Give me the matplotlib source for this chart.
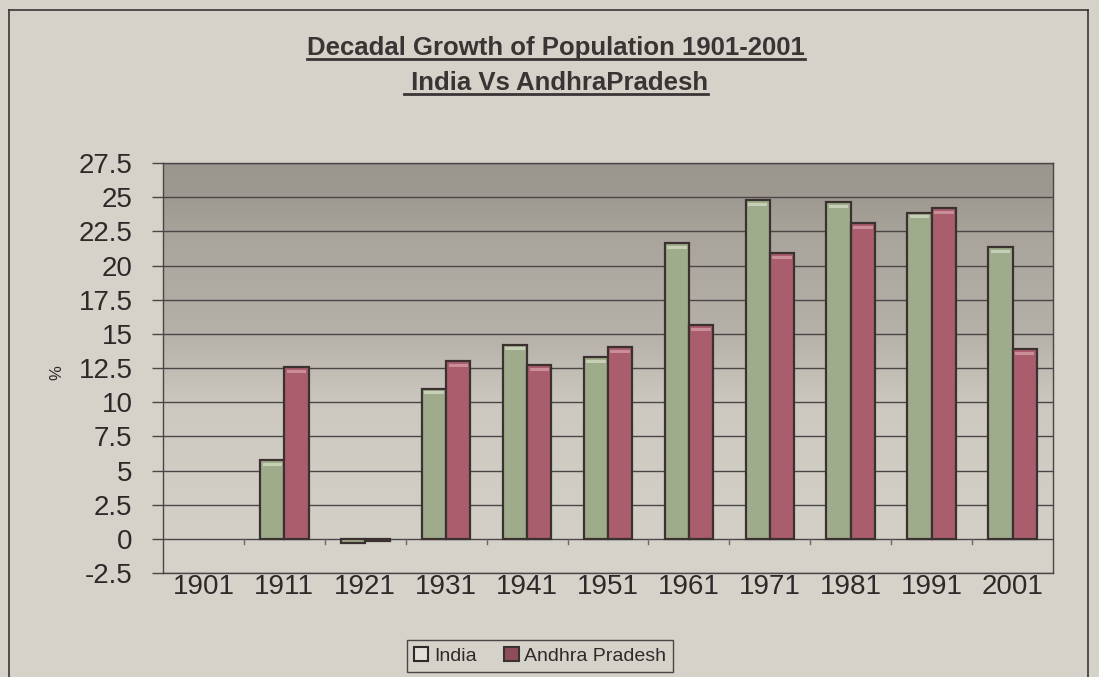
import numpy as np
import matplotlib
matplotlib.use("Agg")
import matplotlib.pyplot as plt
from matplotlib.colors import LinearSegmentedColormap
from matplotlib.patches import Patch
from matplotlib.lines import Line2D

# data (1901 has no growth figure)
years = ["1901", "1911", "1921", "1931", "1941", "1951",
         "1961", "1971", "1981", "1991", "2001"]
india = [np.nan, 5.75, -0.31, 11.0, 14.22, 13.31, 21.64, 24.8, 24.66, 23.87, 21.34]
andhra = [np.nan, 12.55, -0.13, 12.99, 12.73, 14.02, 15.65, 20.9, 23.1, 24.2, 13.86]
yticks = np.arange(-2.5, 27.6, 2.5)

title1 = "Decadal Growth of Population 1901-2001"
title2 = " India Vs AndhraPradesh"

bg = "#d5d2ca"
green = "#9fac8b"
red = "#a95d6d"
edge = "#3b3131"

plt.rcParams['font.family'] = ['Liberation Sans', 'DejaVu Sans']

fig = plt.figure(figsize=(10.99, 6.77), dpi=100, facecolor=bg)
ax = fig.add_axes([0.1483, 0.1536, 0.8099, 0.6056])
ax.set_facecolor(bg)

n = len(years)
x = np.arange(n)
w = 0.3

ax.set_xlim(-0.5, n - 0.5)
ax.set_ylim(-2.5, 27.5)

# shaded back wall (darker towards the top, as in the scan)
cmap = LinearSegmentedColormap.from_list(
    "wall", [(0.0, "#d3d0c8"), (0.35, "#cdc9c1"), (0.55, "#b5b0a8"),
             (0.8, "#a9a49c"), (0.92, "#9e9990"), (1.0, "#9b968e")])
grad = np.linspace(0, 1, 256).reshape(-1, 1)
ax.imshow(grad, extent=(-0.5, n - 0.5, 0, 27.5), origin="lower",
          aspect="auto", cmap=cmap, zorder=0)

for yv in yticks:
    ax.axhline(yv, color="#4a4646", lw=1.0, zorder=1)

vi = np.array(india)
va = np.array(andhra)
mi = ~np.isnan(vi)
ma = ~np.isnan(va)
ax.bar(x[mi] - w / 2, vi[mi], w, color=green, edgecolor=edge, linewidth=1.6, zorder=3)
ax.bar(x[ma] + w / 2, va[ma], w, color=red, edgecolor=edge, linewidth=1.6, zorder=3)

# lighter cap just under the top edge of the taller bars
pi = mi & (vi > 1)
pa = ma & (va > 1)
ax.bar(x[pi] - w / 2, 0.22, w * 0.8, bottom=vi[pi] - 0.42, color="#c6cfb6",
       linewidth=0, zorder=4)
ax.bar(x[pa] + w / 2, 0.22, w * 0.8, bottom=va[pa] - 0.42, color="#c98e98",
       linewidth=0, zorder=4)

# small category tick marks on the zero line
for xb in np.arange(0.5, n - 0.5, 1.0):
    ax.plot([xb, xb], [0, -0.35], color="#6a6666", lw=1.0, zorder=2)

ax.set_yticks(yticks)
ax.set_yticklabels([("%g" % v) for v in yticks], fontsize=20, color="#2e2a2a")
ax.set_xticks(x)
ax.set_xticklabels(years, fontsize=20, color="#2e2a2a")
ax.tick_params(axis="y", length=8, width=1, color="#4a4646", pad=14)
ax.tick_params(axis="x", length=0, pad=1)
for s in ax.spines.values():
    s.set_color("#4a4646")
    s.set_linewidth(1.0)

fig.text(0.052, 0.45, "%", rotation=90, fontsize=12, color="#2e2a2a",
         ha="center", va="center")

# title, bold and underlined
W, H = 1099, 677
t1 = fig.text(556 / W, 1 - 48 / H, title1, ha="center", va="center",
              fontsize=18.5, fontweight="bold", color="#3a3535")
t2 = fig.text(556 / W, 1 - 83 / H, title2, ha="center", va="center",
              fontsize=18.5, fontweight="bold", color="#3a3535")

handles = [Patch(facecolor="#e2e0d8", edgecolor="#2e2a2a", lw=1.5),
           Patch(facecolor="#8f4c5a", edgecolor="#3b3131", lw=1.5)]
leg = fig.legend(handles, ["India", "Andhra Pradesh"], loc="center",
                 bbox_to_anchor=(540 / W, 1 - 656 / H), ncol=2, fontsize=14,
                 frameon=True, fancybox=False, edgecolor="#4a4646",
                 facecolor=bg, framealpha=1, handlelength=0.75,
                 handleheight=0.75, handletextpad=0.3, columnspacing=1.4,
                 borderpad=0.35)
leg.get_frame().set_linewidth(1.0)
for txt in leg.get_texts():
    txt.set_color("#2e2a2a")

# outer chart border
fig.add_artist(Line2D([9 / W, 9 / W], [0, 1 - 10 / H], color="#3a3535", lw=1.2))
fig.add_artist(Line2D([9 / W, 1088 / W], [1 - 10 / H, 1 - 10 / H], color="#3a3535", lw=1.2))
fig.add_artist(Line2D([1088 / W, 1088 / W], [0, 1 - 10 / H], color="#3a3535", lw=1.2))

# underline the title lines
fig.canvas.draw()
r = fig.canvas.get_renderer()
for t in (t1, t2):
    bb = t.get_window_extent(r)
    fx0, fx1 = bb.x0 / W, bb.x1 / W
    fy = (bb.y0 + 1) / H
    fig.add_artist(Line2D([fx0, fx1], [fy, fy], color="#3a3535", lw=2.0))

fig.savefig("out.png", dpi=100, facecolor=bg)
